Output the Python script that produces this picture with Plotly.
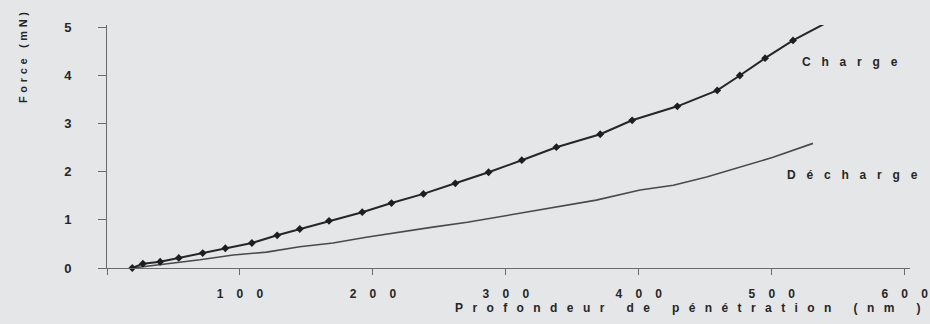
import plotly.graph_objects as go

# ---- data ----
charge_depth = [19, 27, 40, 54, 72, 89, 109, 128, 145, 167, 192, 214, 238, 262,
                287, 312, 338, 371, 395, 429, 459, 476, 495, 516, 540]
charge_force = [0.0, 0.09, 0.13, 0.21, 0.31, 0.41, 0.52, 0.68, 0.81, 0.98, 1.16, 1.35,
                1.54, 1.76, 1.99, 2.24, 2.51, 2.78, 3.07, 3.36, 3.69, 4.00, 4.36, 4.73, 5.08]

decharge_depth = [19, 45, 70, 95, 120, 145, 170, 195, 220, 245, 271, 295, 331, 368,
                  401, 426, 451, 476, 501, 531]
decharge_force = [0.0, 0.08, 0.17, 0.27, 0.33, 0.44, 0.52, 0.64, 0.75, 0.85, 0.95,
                  1.06, 1.24, 1.41, 1.62, 1.72, 1.89, 2.10, 2.30, 2.59]

x_ticks = [0, 100, 200, 300, 400, 500, 600]
x_tick_labels = ["", "100", "200", "300", "400", "500", "600"]
y_ticks = [0, 1, 2, 3, 4, 5]
y_tick_labels = ["0", "1", "2", "3", "4", "5"]

x_title = "Profondeur de pénétration (nm )"
y_title = "Force (mN)"
label_charge = "Charge"
label_decharge = "Décharge"


def spaced(s, sep):
    return sep.join(list(s))


TEXT = "#262626"
BG = "#e4e6e8"
AXIS = "#6a6a6a"
FONT = "Arial, Liberation Sans, sans-serif"

fig = go.Figure()
fig.add_trace(go.Scatter(
    x=decharge_depth, y=decharge_force, mode="lines",
    line=dict(color="#4a4a4a", width=1.6),
    cliponaxis=False, showlegend=False))
fig.add_trace(go.Scatter(
    x=charge_depth, y=charge_force, mode="lines+markers",
    line=dict(color="#262626", width=2),
    marker=dict(symbol="diamond", size=6, color="#1e1e1e"),
    cliponaxis=False, showlegend=False))

fig.update_layout(
    width=930, height=324,
    margin=dict(l=107, r=20, t=25, b=56, autoexpand=False),
    paper_bgcolor=BG, plot_bgcolor=BG,
    font=dict(family=FONT, color=TEXT, size=13),
    xaxis=dict(range=[0, 604], showgrid=False, zeroline=False, automargin=False,
               showline=True, linecolor=AXIS, linewidth=1,
               ticks="outside", ticklen=6, tickcolor=AXIS,
               tickvals=x_ticks,
               ticktext=["<b>" + spaced(t, "\u2002\u2009\u2009\u2009") + "</b>"
                         for t in x_tick_labels],
               ticklabelstandoff=9,
               ticklabeloverflow="allow",
               tickfont=dict(size=12, color=TEXT)),
    yaxis=dict(range=[0, 5.05], showgrid=False, zeroline=False, automargin=False,
               showline=True, linecolor=AXIS, linewidth=1,
               ticks="outside", ticklen=8, tickcolor=AXIS,
               tickvals=y_ticks, ticktext=["<b>" + t + "</b>" for t in y_tick_labels],
               ticklabelstandoff=24,
               tickfont=dict(size=13, color=TEXT)),
    annotations=[
        dict(text="<b>" + spaced(label_charge, "\u2002\u2009\u2009") + "</b>",
             xref="paper", yref="paper",
             x=0.863, y=0.848, xanchor="left", yanchor="middle", showarrow=False,
             font=dict(size=12, color=TEXT)),
        dict(text="<b>" + spaced(label_decharge, "\u2002\u2009\u2009") + "</b>",
             xref="paper", yref="paper",
             x=0.844, y=0.383, xanchor="left", yanchor="middle", showarrow=False,
             font=dict(size=12, color=TEXT)),
        dict(text="<b>" + spaced(x_title, "\u2002\u2009\u200a") + "</b>",
             xref="paper", yref="paper",
             x=0.431, y=-0.165, xanchor="left", yanchor="middle", showarrow=False,
             font=dict(size=12, color=TEXT)),
        dict(text="<b>" + spaced(y_title, "\u2005\u200a") + "</b>",
             xref="paper", yref="paper",
             x=-0.1046, y=0.864, xanchor="center", yanchor="middle", showarrow=False,
             textangle=-90, font=dict(size=11, color=TEXT)),
    ],
)

fig.write_html(
    "out.html",
    config=dict(displayModeBar=False),
    post_script="document.body.style.margin='0';"
                "document.body.style.overflow='hidden';"
                "document.body.style.background='" + BG + "';",
)
